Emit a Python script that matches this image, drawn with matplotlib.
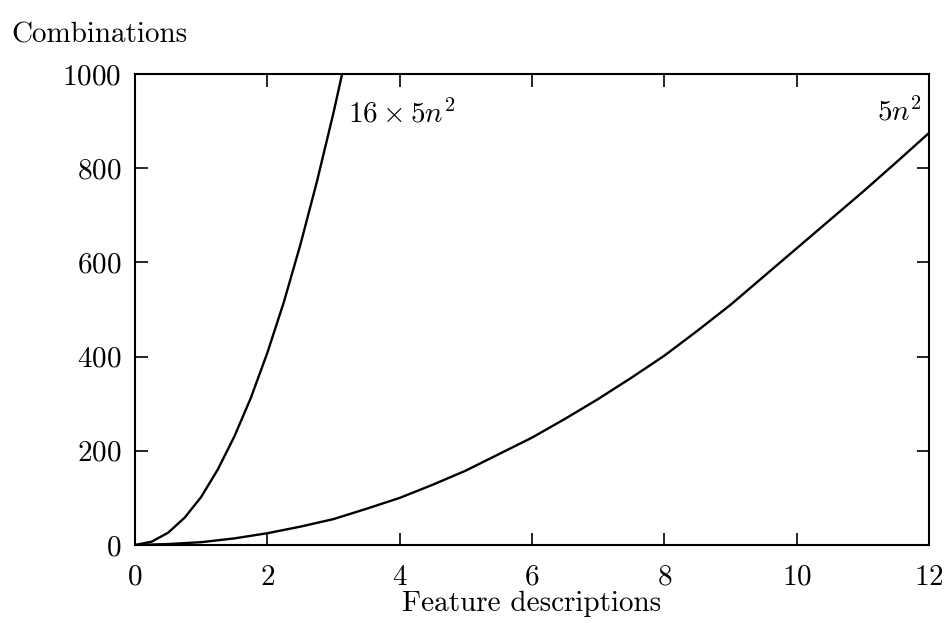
import matplotlib
matplotlib.use('Agg')
import matplotlib.pyplot as plt

plt.rcParams['font.family'] = 'cmr10'
plt.rcParams['mathtext.fontset'] = 'cm'
plt.rcParams['axes.formatter.use_mathtext'] = True

n_big = [0, 0.25, 0.5, 0.75, 1.0, 1.25, 1.5, 1.75, 2.0, 2.25, 2.5, 2.75, 3.0, 3.13]
y_big = [0, 7, 26, 58, 102, 160, 230, 312, 408, 516, 638, 772, 918, 1000]
n_small = [0, 0.5, 1, 1.5, 2, 2.5, 3, 3.5, 4, 4.5, 5, 5.5, 6, 6.5, 7, 7.5,
           8, 8.5, 9, 9.5, 10, 10.5, 11, 11.5, 12]
y_small = [0, 2, 6, 14, 25, 39, 55, 77, 100, 128, 158, 193, 228, 268, 310, 355,
           402, 455, 510, 570, 630, 690, 750, 812, 875]
xticks = [0, 2, 4, 6, 8, 10, 12]
yticks = [0, 200, 400, 600, 800, 1000]

fig = plt.figure(figsize=(9.46, 6.23), dpi=100)
ax = fig.add_axes([0.1427, 0.1252, 0.8393, 0.7558])
ax.plot(n_big, y_big, color='black', lw=1.7)
ax.plot(n_small, y_small, color='black', lw=1.7)
ax.set_xlim(0, 12)
ax.set_ylim(0, 1000)
ax.set_xticks(xticks)
ax.set_yticks(yticks)
ax.tick_params(direction='in', length=9, width=1.2, top=True, right=True,
               labelsize=21)
ax.tick_params(axis='x', pad=14)
ax.tick_params(axis='y', pad=10)
for s in ax.spines.values():
    s.set_linewidth(1.5)

ax.text(3.22, 915, r'$16\times5n^2$', fontsize=21, va='center')
ax.text(11.55, 920, r'$5n^2$', fontsize=21, va='center', ha='center')

ax.set_xlabel('Feature descriptions', fontsize=21, labelpad=0)
fig.text(0.012, 0.944, 'Combinations', fontsize=21, va='center')

plt.savefig('out.png', dpi=100)
